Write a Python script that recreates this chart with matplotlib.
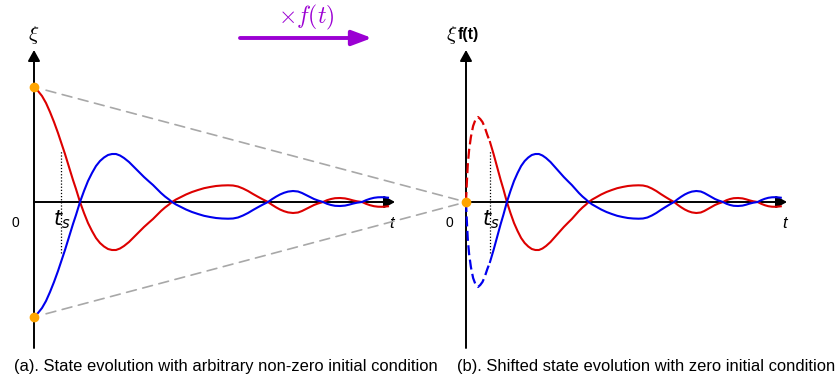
import matplotlib.pyplot as plt
from matplotlib.patches import ConnectionPatch

# time samples and state values (panel a)
t = [0, 4, 8, 12, 16, 20, 24, 27, 31, 35, 39, 42, 46, 50, 54, 58, 62, 66, 70, 74,
     78, 82, 86, 90, 95, 100, 105, 110, 115, 119, 123, 127, 131, 135, 138, 142, 147,
     152, 158, 164, 170, 176, 182, 188, 194, 199, 204, 209, 214, 219, 224, 229, 234,
     238, 242, 246, 250, 254, 259, 264, 268, 272, 276, 280, 284, 289, 293, 297, 301,
     306, 311, 315, 319, 323, 328, 332, 336, 340, 344, 348, 351, 354]
red = [115, 111, 106, 99, 90, 80, 69, 60, 48, 35, 22, 13, 0, -11, -21, -29, -36, -41, -44.5, -47,
       -48, -48, -46.5, -44, -40, -35, -30, -25, -20.5, -17, -13, -9, -5.5, -2.5, 0, 2.5, 5,
       7.5, 10, 12, 13.8, 15, 16, 16.5, 16.7, 16.5, 15.5, 13.5, 11, 8, 5.2, 2.5, 0,
       -2.8, -5.3, -7.5, -9.2, -10.4, -11, -10.5, -9, -7, -5, -3, -1.5, 0, 1.8, 3, 3.8,
       4, 3.6, 2.7, 1.6, 0.7, 0, -1.8, -3.2, -4.2, -4.7, -4.8, -4.6, -4.3]
blue = [-115, -111, -106, -99, -90, -80, -69, -60, -48, -35, -22, -13, 0, 11, 21, 29, 36, 41, 44.5, 47,
        48, 48, 46.5, 44, 40, 35, 30, 25, 20.5, 17, 13, 9, 5.5, 2.5, 0, -2.5, -5,
        -7.5, -10, -12, -13.8, -15, -16, -16.5, -16.7, -16.5, -15.5, -13.5, -11, -8, -5.2, -2.5, 0,
        2.8, 5.3, 7.5, 9.2, 10.4, 11, 10.5, 9, 7, 5, 3, 1.5, 0, -1.8, -3, -3.8,
        -4, -3.6, -2.7, -1.6, -0.7, 0, 1.8, 3.2, 4.2, 4.7, 4.8, 4.6, 4.3]

# shifted start (panel b, dashed part before t_s)
t_pre = [0, 1, 2, 3.5, 5.5, 8, 10.5, 13.5, 16, 18.5, 21, 24, 27]
red_pre = [0, 20, 37, 52, 65, 76, 82, 85, 83, 80, 75, 67, 60]
blue_pre = [0, -20, -37, -52, -65, -76, -82, -85, -83, -80, -75, -67, -60]

t_s = 27
ts_mark = 51
t_end = 361
y_top, y_bot = 152, -146

captions = ["(a). State evolution with arbitrary non-zero initial condition",
            "(b). Shifted state evolution with zero initial condition"]

plt.rcParams['font.family'] = ['Liberation Sans', 'DejaVu Sans']
plt.rcParams['mathtext.fontset'] = 'cm'

RED = '#DD0000'
BLUE = '#0000EE'
ORANGE = '#FFA500'
PURPLE = '#9B00D3'

W, H = 835, 380
fig = plt.figure(figsize=(W / 100, H / 100), dpi=100)
ax_a = fig.add_axes([34 / W, (H - 348) / H, 361 / W, 298 / H])
ax_b = fig.add_axes([466 / W, (H - 348) / H, 321 / W, 298 / H])

arrow_k = dict(arrowstyle='-|>,head_length=0.65,head_width=0.36', color='k', lw=1.4,
               shrinkA=0, shrinkB=0, mutation_scale=10)

for ax in (ax_a, ax_b):
    ax.set_xlim(0, t_end)
    ax.set_ylim(y_bot, y_top)
    ax.axis('off')
    ax.annotate('', xy=(0, y_top), xytext=(0, y_bot), arrowprops=arrow_k, annotation_clip=False)
    ax.annotate('', xy=(t_end, 0), xytext=(0, 0), arrowprops=arrow_k, annotation_clip=False)
    ax.plot([t_s, t_s], [-ts_mark, ts_mark], color='k', lw=0.9, ls=(0, (1, 1.5)))
    ax.text(-19, -21, '0', ha='center', va='center', fontsize=10)
    ax.text(358, -21, 't', ha='center', va='center', fontsize=12, style='italic')
    ax.text(t_s + 1, -18, '$t_s$', ha='center', va='center', fontsize=15,
            math_fontfamily='dejavusans')

# panel a
ax_a.plot(t, red, color=RED, lw=1.5, clip_on=False, zorder=3)
ax_a.plot(t, blue, color=BLUE, lw=1.5, clip_on=False, zorder=3)
ax_a.scatter([t[0], t[0]], [red[0], blue[0]], s=36, color=ORANGE, zorder=5, clip_on=False)
ax_a.text(0, 167, r'$\xi$', ha='center', va='center', fontsize=15)

# panel b
keep = [i for i, v in enumerate(t) if v >= t_s]
ax_b.plot([t[i] for i in keep], [red[i] for i in keep], color=RED, lw=1.5, clip_on=False, zorder=3)
ax_b.plot([t[i] for i in keep], [blue[i] for i in keep], color=BLUE, lw=1.5, clip_on=False, zorder=3)
ax_b.plot(t_pre, red_pre, color=RED, lw=1.6, ls=(0, (4.5, 2)), clip_on=False, zorder=3)
ax_b.plot(t_pre, blue_pre, color=BLUE, lw=1.6, ls=(0, (4.5, 2)), clip_on=False, zorder=3)
ax_b.scatter([t_pre[0]], [red_pre[0]], s=36, color=ORANGE, zorder=5, clip_on=False)
ax_b.text(-9.5, 167, r'$\xi$', ha='right', va='center', fontsize=15)
ax_b.text(-9, 167, 'f(t)', ha='left', va='center', fontsize=11.5, fontweight='bold')

# grey guide lines from initial values to the shifted origin
for y0 in (red[0], blue[0]):
    con = ConnectionPatch(xyA=(t[0], y0), coordsA=ax_a.transData,
                          xyB=(t_pre[0], red_pre[0]), coordsB=ax_b.transData,
                          color='#A8A8A8', lw=1.2, ls=(0, (6, 4)),
                          shrinkA=9, shrinkB=6, zorder=1)
    fig.add_artist(con)

# multiply arrow
fig.add_artist(plt.Annotation('', xy=(372, H - 38), xytext=(240, H - 38),
                              xycoords='figure pixels', textcoords='figure pixels',
                              arrowprops=dict(arrowstyle='-|>,head_length=1.2,head_width=0.45',
                                              color=PURPLE, lw=2.8, shrinkA=0, shrinkB=0,
                                              mutation_scale=10)))
fig.text(306 / W, (H - 17) / H, r'$\times f(t)$', ha='center', va='center', fontsize=17, color=PURPLE)

fig.text(14 / W, (H - 367) / H, captions[0], ha='left', va='center', fontsize=11.9)
fig.text(457 / W, (H - 367) / H, captions[1], ha='left', va='center', fontsize=11.9)

fig.savefig('out.png', dpi=100)
